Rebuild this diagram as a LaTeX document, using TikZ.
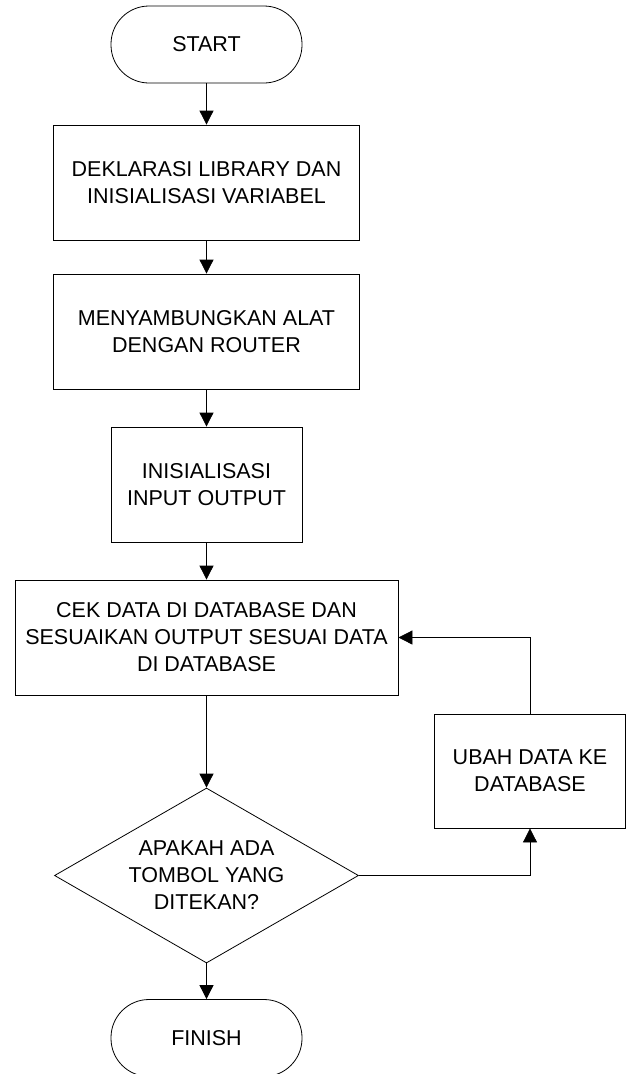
\documentclass[tikz,border=0pt]{standalone}
\usepackage{fontspec}
\setmainfont{Liberation Sans}
\usetikzlibrary{arrows.meta,shapes.geometric}

\begin{document}
\begin{tikzpicture}[x=1pt,y=-1pt,
  every node/.style={font=\fontsize{21.5}{27}\selectfont,align=center,draw,line width=0.8pt,inner sep=0pt},
  terminal/.style={rounded corners=38pt,minimum width=191pt,minimum height=77pt},
  process/.style={rectangle,minimum height=115pt},
  decision/.style={diamond,aspect=1.737,minimum width=304pt,minimum height=175pt},
  flow/.style={line width=0.8pt,-{Triangle[length=14pt,width=14pt]}}]
\useasboundingbox (0,0) rectangle (631,1074);
% Draw terminals
\node[terminal] (start) at (206.5,44.5) {START};
\node[terminal] (finish) at (206.5,1038) {FINISH};
% Draw process boxes
\node[process,minimum width=305.5pt] (deklarasi) at (206.5,182.5) {DEKLARASI LIBRARY DAN\\INISIALISASI VARIABEL};
\node[process,minimum width=305.5pt] (router) at (206.5,331.5) {MENYAMBUNGKAN ALAT\\DENGAN ROUTER};
\node[process,minimum width=191pt] (inisial) at (206.5,484.5) {INISIALISASI\\INPUT OUTPUT};
\node[process,minimum width=383pt] (cekdata) at (206.5,637.5) {CEK DATA DI DATABASE DAN\\SESUAIKAN OUTPUT SESUAI DATA\\DI DATABASE};
\node[process,minimum width=191pt,minimum height=114pt] (ubah) at (530,771) {UBAH DATA KE\\DATABASE};
% Draw decision
\node[decision] (tombol) at (206.5,875.5) {APAKAH ADA\\TOMBOL YANG\\DITEKAN?};
% Draw arrows
\draw[flow] (start) -- (deklarasi);
\draw[flow] (deklarasi) -- (router);
\draw[flow] (router) -- (inisial);
\draw[flow] (inisial) -- (cekdata);
\draw[flow] (cekdata) -- (tombol);
\draw[flow] (tombol) -- (finish);
\draw[flow] (tombol.east) -| (ubah.south);
\draw[flow] (ubah.north) |- (cekdata.east);
\end{tikzpicture}
\end{document}
